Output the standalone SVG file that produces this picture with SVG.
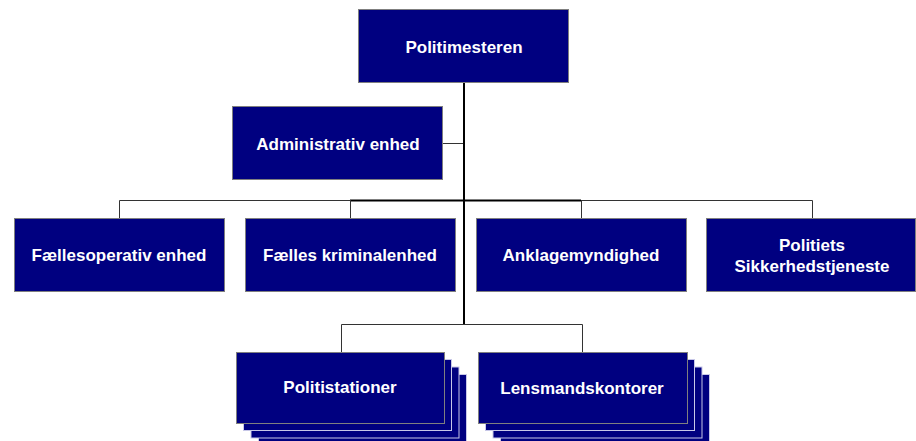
<svg xmlns="http://www.w3.org/2000/svg" width="916" height="441" viewBox="0 0 916 441">
  <style>
    .box { fill: #000080; stroke: #7f7f7f; stroke-width: 1; }
    .stack { fill: #000080; stroke: #c8c8e8; stroke-width: 1; }
    .lbl { font-family: "Liberation Sans", Arial, sans-serif; font-weight: bold; font-size: 17px; fill: #ffffff; text-anchor: middle; }
    .thin { stroke: #333333; stroke-width: 1; fill: none; }
    .thick { stroke: #000000; stroke-width: 2; fill: none; }
  </style>
  <rect width="916" height="441" fill="#ffffff"/>

  <g id="connectors">
    <!-- staff unit -->
    <line class="thin" x1="443" y1="143.5" x2="464" y2="143.5"/>
    <!-- unit bus -->
    <polyline class="thin" points="119.5,218 119.5,200.5 350,200.5"/>
    <polyline class="thin" points="581,200.5 812.5,200.5 812.5,218"/>
    <line class="thick" x1="350" y1="200.5" x2="581" y2="200.5"/>
    <line class="thin" x1="350.5" y1="200" x2="350.5" y2="218"/>
    <line class="thin" x1="581.5" y1="200" x2="581.5" y2="218"/>
    <!-- main trunk -->
    <line class="thick" x1="464" y1="83" x2="464" y2="324"/>
    <!-- local offices -->
    <polyline class="thin" points="341.5,352 341.5,324.5 582.5,324.5 582.5,352"/>
  </g>

  <g id="politimesteren">
    <rect class="box" x="358.5" y="9.5" width="210" height="73"/>
    <text class="lbl" x="464" y="53">Politimesteren</text>
  </g>

  <g id="administrativ-enhed">
    <rect class="box" x="232.5" y="106.5" width="210" height="73"/>
    <text class="lbl" x="338" y="150">Administrativ enhed</text>
  </g>

  <g id="faellesoperativ-enhed">
    <rect class="box" x="14.5" y="218.5" width="210" height="73"/>
    <text class="lbl" x="119" y="261">Fællesoperativ enhed</text>
  </g>

  <g id="faelles-kriminalenhed">
    <rect class="box" x="245.5" y="218.5" width="210" height="73"/>
    <text class="lbl" x="350" y="261">Fælles kriminalenhed</text>
  </g>

  <g id="anklagemyndighed">
    <rect class="box" x="476.5" y="218.5" width="210" height="73"/>
    <text class="lbl" x="581" y="261">Anklagemyndighed</text>
  </g>

  <g id="politiets-sikkerhedstjeneste">
    <rect class="box" x="706.5" y="218.5" width="209" height="73"/>
    <text class="lbl" x="812" y="251">Politiets</text>
    <text class="lbl" x="812" y="272">Sikkerhedstjeneste</text>
  </g>

  <g id="politistationer">
    <rect class="stack" x="258.5" y="374.5" width="208" height="71"/>
    <rect class="stack" x="251" y="367" width="208" height="71"/>
    <rect class="stack" x="243.5" y="359.5" width="208" height="71"/>
    <rect class="box" x="236.5" y="352.5" width="208" height="71"/>
    <text class="lbl" x="340" y="393">Politistationer</text>
  </g>

  <g id="lensmandskontorer">
    <rect class="stack" x="500.5" y="374.5" width="209" height="71"/>
    <rect class="stack" x="493" y="367" width="209" height="71"/>
    <rect class="stack" x="485.5" y="359.5" width="209" height="71"/>
    <rect class="box" x="478.5" y="352.5" width="209" height="71"/>
    <text class="lbl" x="582" y="394">Lensmandskontorer</text>
  </g>
</svg>
